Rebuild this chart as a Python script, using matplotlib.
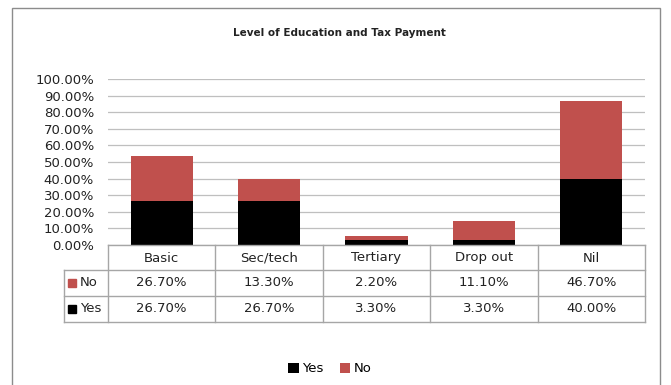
import matplotlib
matplotlib.use("Agg")
import matplotlib.pyplot as plt
from matplotlib.patches import Rectangle
from matplotlib.lines import Line2D

# data
categories = ["Basic", "Sec/tech", "Tertiary", "Drop out", "Nil"]
yes_vals = [26.7, 26.7, 3.3, 3.3, 40.0]
no_vals = [26.7, 13.3, 2.2, 11.1, 46.7]
yticks = [0, 10, 20, 30, 40, 50, 60, 70, 80, 90, 100]

RED = "#C0504D"
W, H = 671, 385

plt.rcParams['font.family'] = ['DejaVu Sans']

fig = plt.figure(figsize=(W / 100, H / 100), dpi=100)


def fx(px):
    return px / W


def fy(py):
    return 1 - py / H


# outer chart border
fig.patches.append(Rectangle((fx(12), fy(400)), fx(660) - fx(12), fy(8) - fy(400),
                             transform=fig.transFigure, fill=False,
                             edgecolor="#8c8c8c", lw=1.0))

ax = fig.add_axes([fx(108), fy(245), fx(645) - fx(108), fy(79) - fy(245)])
x = list(range(len(categories)))
ax.bar(x, yes_vals, width=0.58, color="black", label="Yes", zorder=3)
ax.bar(x, no_vals, width=0.58, bottom=yes_vals, color=RED, label="No", zorder=3)
ax.set_xlim(-0.5, len(categories) - 0.5)
ax.set_ylim(0, 100)
ax.set_yticks(yticks)
ax.set_yticklabels(["%.2f%%" % v for v in yticks], fontsize=9.5, color="#222222")
ax.tick_params(axis="y", length=0, pad=10)
ax.set_xticks([])
ax.grid(axis="y", color="#bfbfbf", lw=0.9, zorder=0)
for s in ax.spines.values():
    s.set_visible(False)

fig.text(fx(339), fy(33), "Level of Education and Tax Payment", ha="center",
         va="center", fontsize=7.5, fontweight="semibold", color="#222222")

# data table below the axes
col_edges = [108 + i * (645 - 108) / len(categories) for i in range(len(categories) + 1)]
lc = "#a6a6a6"


def hline(x0, x1, y):
    fig.add_artist(Line2D([fx(x0), fx(x1)], [fy(y), fy(y)], color=lc, lw=1.0))


def vline(xx, y0, y1):
    fig.add_artist(Line2D([fx(xx), fx(xx)], [fy(y0), fy(y1)], color=lc, lw=1.0))


hline(108, 645, 245)
hline(64, 645, 270)
hline(64, 645, 296)
hline(64, 645, 322)
for xe in col_edges:
    vline(xe, 245, 322)
vline(64, 270, 322)

for i, c in enumerate(categories):
    cx = (col_edges[i] + col_edges[i + 1]) / 2
    fig.text(fx(cx), fy(258), c, ha="center", va="center", fontsize=9.5, color="#222222")
    fig.text(fx(cx), fy(283), "%.2f%%" % no_vals[i], ha="center", va="center",
             fontsize=9.5, color="#222222")
    fig.text(fx(cx), fy(309), "%.2f%%" % yes_vals[i], ha="center", va="center",
             fontsize=9.5, color="#222222")

for label, color, yc in [("No", RED, 283), ("Yes", "black", 309)]:
    fig.patches.append(Rectangle((fx(68), fy(yc + 4)), fx(8), fy(0) - fy(8),
                                 transform=fig.transFigure, color=color))
    fig.text(fx(80), fy(yc), label, ha="left", va="center", fontsize=9.5, color="#222222")

# legend at the bottom
fig.legend(handles=ax.containers, labels=["Yes", "No"], loc="center",
           bbox_to_anchor=(fx(330), fy(369)), ncol=2, frameon=False, fontsize=9.5,
           handlelength=0.8, handleheight=0.8, handletextpad=0.3, columnspacing=1.2)

fig.savefig("out.png", dpi=100)
